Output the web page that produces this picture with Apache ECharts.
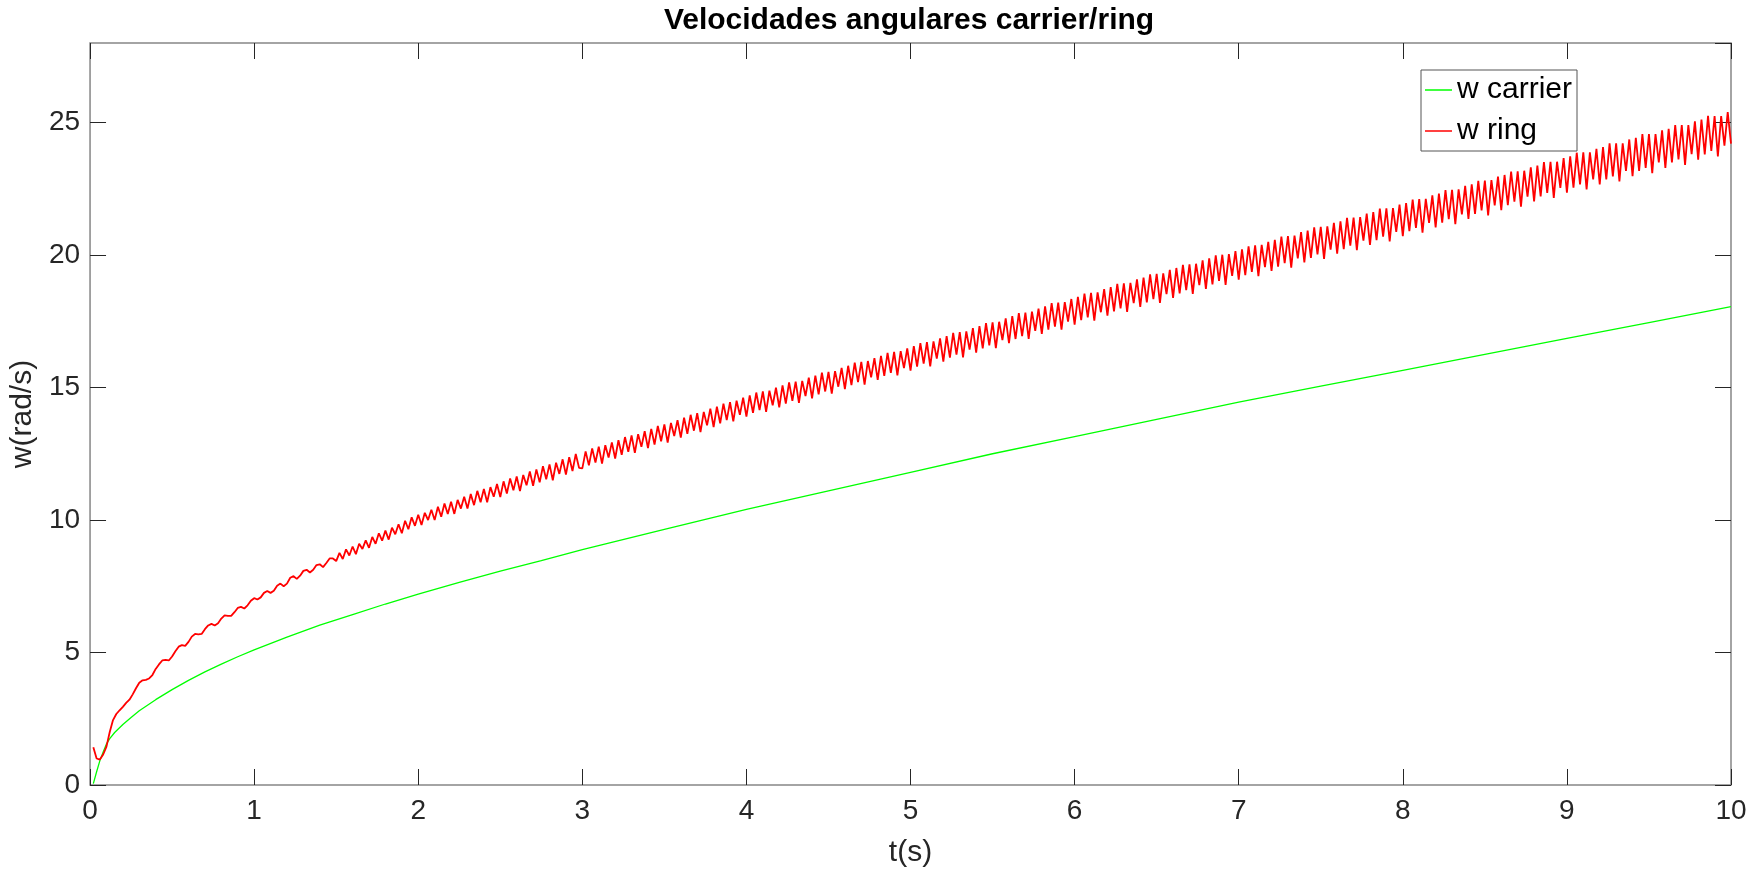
<!DOCTYPE html>
<html>
<head>
<meta charset="utf-8">
<script src="https://cdn.jsdelivr.net/npm/echarts@6/dist/echarts.min.js"></script>
<style>
html,body{margin:0;padding:0;background:#fff;}
#chart{width:1764px;height:873px;}
</style>
</head>
<body>
<div id="chart"></div>
<script>
// ---- data ----
const titleText = 'Velocidades angulares carrier/ring';
const xName = 't(s)';
const yName = 'w(rad/s)';
const seriesNames = ['w carrier', 'w ring'];

// w carrier: sample times and values
const carrierT = [0.02,0.04,0.06,0.08,0.10,0.12,0.15,0.20,0.25,0.30,0.40,0.50,0.60,0.70,0.80,0.90,1.00,1.20,1.40,1.60,1.80,2.00,2.25,2.50,2.75,3.00,3.50,4.00,4.50,5.00,5.50,6.00,6.50,7.00,7.50,8.00,8.50,9.00,9.50,10.00];
const carrierW = [0.05,0.5,0.92,1.25,1.55,1.75,1.98,2.28,2.55,2.8,3.22,3.6,3.95,4.27,4.56,4.84,5.1,5.58,6.03,6.43,6.83,7.2,7.65,8.07,8.47,8.88,9.65,10.4,11.1,11.8,12.5,13.15,13.8,14.45,15.05,15.65,16.25,16.85,17.45,18.05];

// w ring: sampled every 0.02 s from t = 0.02 s to t = 10 s
const ringT0 = 0.02;
const ringDt = 0.02;
const ringW = [
// 0.02 - 1.50
1.42,1.0,0.96,1.15,1.45,2.0,2.45,2.68,2.82,2.95,3.1,3.22,3.42,3.65,3.86,3.95,3.97,4.02,4.15,4.38,
4.55,4.7,4.72,4.7,4.85,5.05,5.22,5.28,5.25,5.4,5.6,5.7,5.68,5.7,5.88,6.02,6.08,6.02,6.1,6.28,
6.4,6.38,6.38,6.52,6.68,6.72,6.66,6.78,6.95,7.05,7.0,7.08,7.25,7.32,7.25,7.33,7.52,7.6,7.5,7.6,
7.82,7.88,7.78,7.9,8.08,8.12,8.02,8.12,8.3,8.33,8.22,8.38,8.55,8.55,8.45,
// 1.52 - 3.00
8.76,8.53,8.89,8.66,9.00,8.71,9.10,8.91,9.23,8.95,9.36,9.10,9.50,9.22,9.60,9.26,9.71,9.46,9.84,9.50,
9.97,9.65,10.10,9.78,10.20,9.81,10.27,10.00,10.39,10.00,10.50,10.12,10.62,10.23,10.69,10.23,10.76,10.43,10.88,10.43,
10.98,10.56,11.10,10.67,11.17,10.67,11.24,10.88,11.36,10.87,11.46,11.00,11.57,11.12,11.64,11.09,11.70,11.31,11.83,11.29,
11.91,11.42,12.03,11.54,12.10,11.50,12.16,11.74,12.29,11.71,12.37,11.85,12.49,11.97,11.95,
// 3.02 - 4.00
12.59,12.06,12.70,12.17,12.77,12.13,12.82,12.36,12.93,12.32,13.01,12.46,13.13,12.57,13.19,12.53,13.24,12.76,13.35,12.71,
13.44,12.85,13.55,12.97,13.61,12.92,13.66,13.17,13.77,13.11,13.86,13.25,13.97,13.37,14.03,13.32,14.08,13.57,14.20,13.51,
14.28,13.65,14.39,13.77,14.45,13.72,14.50,13.97,14.62,13.90,
// 4.02 - 5.00
14.70,14.04,14.81,14.15,14.85,14.08,14.88,14.33,14.99,14.25,15.08,14.39,15.19,14.50,15.22,14.42,15.25,14.68,15.37,14.59,
15.45,14.74,15.56,14.85,15.59,14.77,15.62,15.03,15.74,14.94,15.82,15.09,15.94,15.20,15.97,15.11,16.00,15.38,16.11,15.29,
16.19,15.44,16.31,15.55,16.34,15.46,16.37,15.73,16.48,15.64,
// 5.02 - 6.00
16.56,15.79,16.67,15.90,16.71,15.80,16.74,16.09,16.85,15.98,16.94,16.13,17.06,16.24,17.09,16.14,17.12,16.43,17.24,16.32,
17.32,16.48,17.43,16.59,17.46,16.49,17.48,16.79,17.61,16.67,17.69,16.83,17.81,16.94,17.83,16.83,17.86,17.14,17.98,17.02,
18.06,17.18,18.18,17.30,18.20,17.18,18.22,17.49,18.34,17.37,
// 6.02 - 7.00
18.42,17.54,18.54,17.65,18.57,17.52,18.59,17.84,18.71,17.71,18.79,17.87,18.91,17.99,18.93,17.85,18.95,18.18,19.08,18.04,
19.15,18.21,19.27,18.33,19.29,18.19,19.31,18.52,19.44,18.38,19.51,18.55,19.63,18.67,19.65,18.53,19.67,18.86,19.80,18.72,
19.87,18.89,19.99,19.02,20.01,18.87,20.03,19.21,20.15,19.07,
// 7.02 - 8.00
20.21,19.24,20.33,19.36,20.36,19.20,20.38,19.54,20.50,19.40,20.57,19.56,20.69,19.69,20.71,19.52,20.73,19.87,20.86,19.72,
20.92,19.89,21.04,20.02,21.06,19.85,21.08,20.20,21.21,20.05,21.27,20.22,21.40,20.35,21.41,20.18,21.43,20.54,21.56,20.38,
21.62,20.56,21.75,20.69,21.76,20.51,21.77,20.87,21.90,20.71,
// 8.02 - 9.00
21.96,20.90,22.09,21.02,22.11,20.84,22.12,21.21,22.25,21.04,22.32,21.22,22.45,21.35,22.46,21.16,22.48,21.53,22.61,21.36,
22.67,21.55,22.80,21.68,22.81,21.49,22.83,21.87,22.96,21.69,23.02,21.88,23.15,22.01,23.16,21.82,23.18,22.20,23.31,22.02,
23.37,22.21,23.51,22.34,23.52,22.15,23.52,22.53,23.66,22.35,
// 9.02 - 10.00
23.72,22.54,23.86,22.66,23.87,22.47,23.87,22.85,24.01,22.66,24.07,22.85,24.21,22.97,24.21,22.78,24.21,23.17,24.36,22.97,
24.42,23.17,24.56,23.29,24.56,23.09,24.56,23.49,24.70,23.29,24.76,23.49,24.90,23.61,24.90,23.40,24.90,23.81,25.04,23.60,
25.11,23.80,25.25,23.93,25.24,23.72,25.24,24.13,25.39,24.20
];

// axis ranges / ticks
const xMin = 0, xMax = 10, xStep = 1;
const yMin = 0, yMax = 28, yStep = 5;

// ---- build chart ----
const carrierData = carrierT.map((t, i) => [t, carrierW[i]]);
const ringData = ringW.map((v, i) => [+(ringT0 + i * ringDt).toFixed(2), v]);

const FONT = '"Liberation Sans", Arial, Helvetica, sans-serif';
const chart = echarts.init(document.getElementById('chart'), null, {renderer: 'canvas'});

const PLOT_L = 87, PLOT_R = 1731, PLOT_T = 43, PLOT_B = 786;
const tickStyle = {color: '#262626', width: 1};

function xAxisDef(pos, labels) {
  return {
    type: 'value', min: xMin, max: xMax, interval: xStep, position: pos,
    axisLine: {show: false, onZero: false},
    axisTick: {show: true, inside: true, length: 16, lineStyle: tickStyle},
    axisLabel: {show: labels, fontFamily: FONT, fontSize: 28, color: '#262626', margin: 12},
    splitLine: {show: false},
    name: labels ? xName : '', nameLocation: 'middle', nameGap: 53,
    nameTextStyle: {fontFamily: FONT, fontSize: 30, color: '#262626'}
  };
}
function yAxisDef(pos, labels) {
  return {
    type: 'value', min: yMin, max: yMax, interval: yStep, position: pos,
    axisLine: {show: false, onZero: false},
    axisTick: {show: true, inside: true, length: 16, lineStyle: tickStyle},
    axisLabel: {show: labels, showMaxLabel: false, fontFamily: FONT, fontSize: 28, color: '#262626', margin: 10},
    splitLine: {show: false},
    name: labels ? yName : '', nameLocation: 'middle', nameGap: 45, nameRotate: 90,
    nameTextStyle: {fontFamily: FONT, fontSize: 30, color: '#262626'}
  };
}

chart.setOption({
  animation: false,
  backgroundColor: '#ffffff',
  graphic: [{
    type: 'text', x: (PLOT_L + PLOT_R) / 2, y: 21, z: 10,
    style: {text: titleText, font: 'bold 30px ' + FONT, fill: '#000', textAlign: 'center', textVerticalAlign: 'middle'}
  }],
  grid: {
    left: PLOT_L, right: 1764 - PLOT_R, top: PLOT_T, bottom: 873 - PLOT_B,
    show: true, borderColor: '#868686', borderWidth: 1.5, backgroundColor: '#fff'
  },
  legend: {
    orient: 'vertical', left: 1421, top: 70,
    data: seriesNames,
    icon: 'rect', itemWidth: 27, itemHeight: 1.5, itemGap: 11, itemTextGap: 3,
    padding: [5, 5, 5, 4],
    borderColor: '#555', borderWidth: 1, backgroundColor: '#fff',
    textStyle: {fontFamily: FONT, fontSize: 30, lineHeight: 30, color: '#000'}
  },
  xAxis: [xAxisDef('bottom', true), xAxisDef('top', false)],
  yAxis: [yAxisDef('left', true), yAxisDef('right', false)],
  series: [
    {name: seriesNames[0], type: 'line', data: carrierData, symbol: 'none', sampling: null,
     lineStyle: {color: '#00ff00', width: 1.3}, itemStyle: {color: '#00ff00'}, z: 2},
    {name: seriesNames[1], type: 'line', data: ringData, symbol: 'none', sampling: null,
     lineStyle: {color: '#ff0000', width: 1.8}, itemStyle: {color: '#ff0000'}, z: 3}
  ]
});
</script>
</body>
</html>
